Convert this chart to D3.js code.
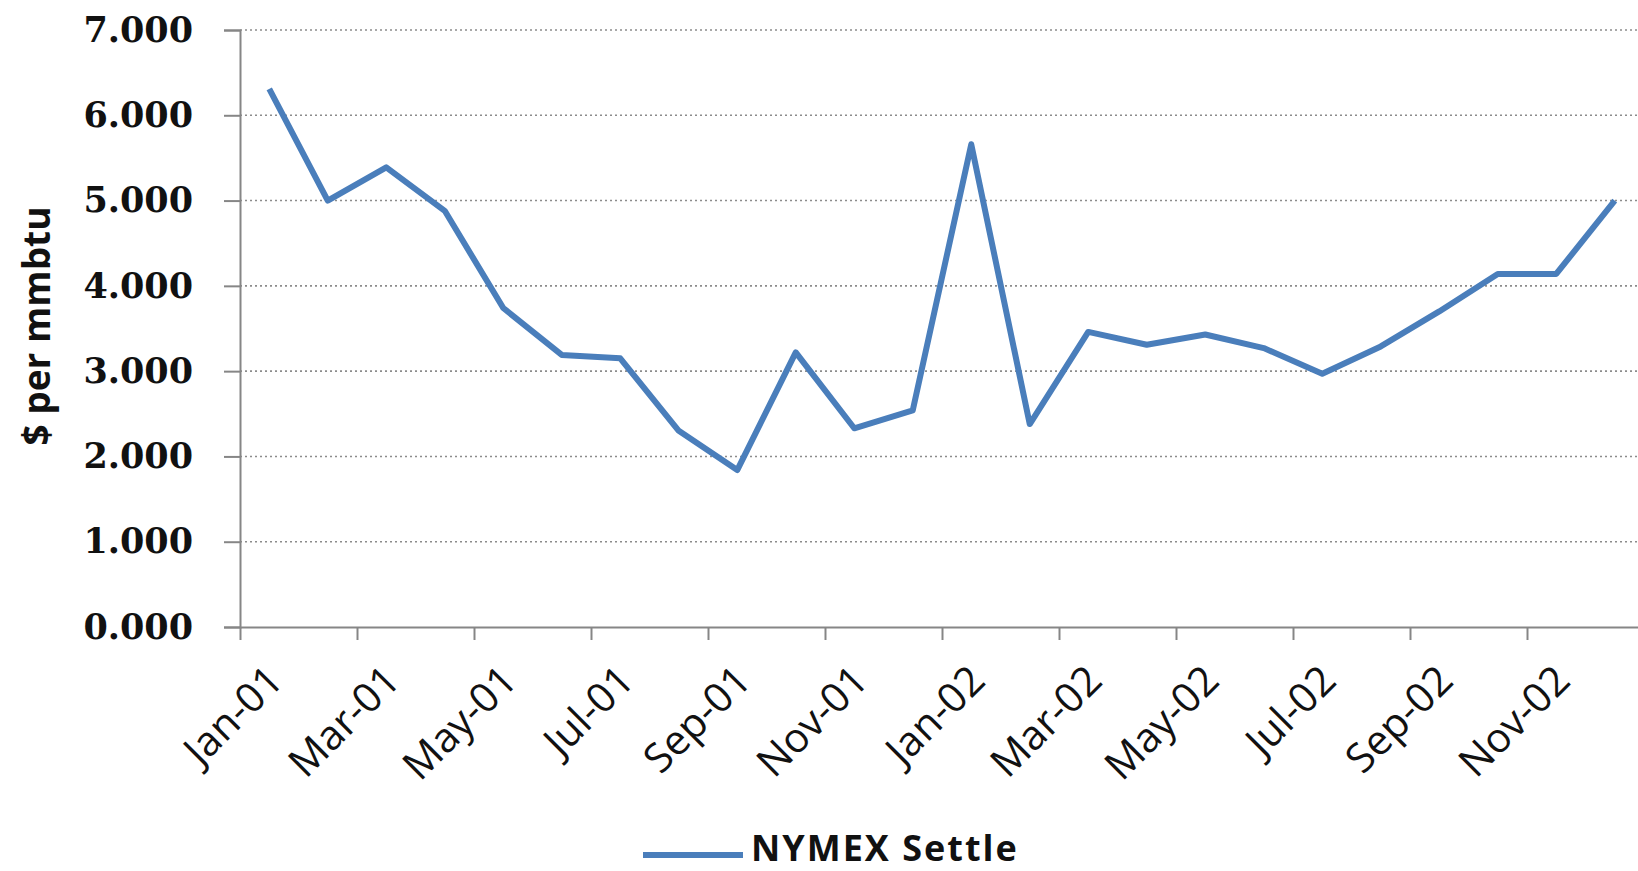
<!DOCTYPE html>
<html>
<head>
<meta charset="utf-8">
<script src="https://cdn.jsdelivr.net/npm/d3@7"></script>
<style>
  body { margin: 0; background: #fff; }
  svg { display: block; }
</style>
</head>
<body>
<div id="chart"></div>
<script>
// monthly categories, Jan-01 .. Dec-02
var months = ["Jan-01","Feb-01","Mar-01","Apr-01","May-01","Jun-01","Jul-01","Aug-01","Sep-01","Oct-01","Nov-01","Dec-01",
              "Jan-02","Feb-02","Mar-02","Apr-02","May-02","Jun-02","Jul-02","Aug-02","Sep-02","Oct-02","Nov-02","Dec-02"];
var settle = [6.31, 5.00, 5.39, 4.88, 3.74, 3.19, 3.15, 2.30, 1.84, 3.22, 2.33, 2.54,
              5.66, 2.38, 3.46, 3.31, 3.43, 3.27, 2.97, 3.29, 3.70, 4.14, 4.14, 5.00];
var yTicks = [0, 1, 2, 3, 4, 5, 6, 7];
var seriesName = "NYMEX Settle";
var yTitle = "$ per mmbtu";

var W = 1638, H = 871;
var margin = {top: 30, left: 240, bottom: 244};
var plotRight = 1644;
var height = H - margin.top - margin.bottom;

var svg = d3.select("#chart").append("svg")
    .attr("width", W)
    .attr("height", H);

var x = d3.scaleBand()
    .domain(months)
    .range([margin.left, plotRight])
    .padding(0);

var xIdx = d3.scaleLinear()
    .domain([0, months.length])
    .range([margin.left, plotRight]);

var y = d3.scaleLinear()
    .domain([0, 7])
    .range([margin.top + height, margin.top]);

// dotted gridlines
svg.append("g")
    .selectAll("line")
    .data(yTicks.filter(function(d){ return d > 0; }))
    .enter().append("line")
    .attr("x1", margin.left)
    .attr("x2", W)
    .attr("y1", function(d){ return y(d); })
    .attr("y2", function(d){ return y(d); })
    .attr("stroke", "#8c8c8c")
    .attr("stroke-width", 1.6)
    .attr("stroke-dasharray", "2,3");

// y axis
var yAxis = svg.append("g")
    .attr("transform", "translate(" + margin.left + ",0)")
    .call(d3.axisLeft(y).tickValues(yTicks).tickSize(16).tickPadding(31).tickFormat(d3.format(".3f")));
yAxis.selectAll("path, line").attr("stroke", "#868686").attr("stroke-width", 2);
yAxis.selectAll("text")
    .attr("fill", "#111")
    .style("font-family", "'DejaVu Serif', serif")
    .style("font-weight", "bold")
    .style("font-size", "35px");

// x axis (ticks between categories, every 2nd)
var evenIdx = d3.range(0, months.length + 1, 2);
var xAxis = svg.append("g")
    .attr("transform", "translate(0," + y(0) + ")")
    .call(d3.axisBottom(xIdx).tickValues(evenIdx).tickSize(13).tickSizeOuter(0).tickFormat(""));
xAxis.selectAll("path, line").attr("stroke", "#868686").attr("stroke-width", 2);

svg.append("g")
    .selectAll("text")
    .data(months.filter(function(d, i){ return i % 2 === 0; }))
    .enter().append("text")
    .attr("transform", function(d){
        return "translate(" + (x(d) + x.bandwidth() / 2 + 16) + "," + (y(0) + 56) + ") rotate(-45)";
    })
    .attr("text-anchor", "end")
    .attr("fill", "#111")
    .style("font-family", "'Open Sans', sans-serif")
    .style("font-size", "41px")
    .text(function(d){ return d; });

// y axis title
svg.append("text")
    .attr("transform", "translate(" + 50 + "," + 326 + ") rotate(-90)")
    .attr("text-anchor", "middle")
    .attr("fill", "#111")
    .style("font-family", "'Open Sans', sans-serif")
    .style("font-weight", "bold")
    .style("font-size", "37px")
    .text(yTitle);

// the series
var valueline = d3.line()
    .x(function(d, i){ return x(months[i]) + x.bandwidth() / 2; })
    .y(function(d){ return y(d); });

svg.append("path")
    .datum(settle)
    .attr("d", valueline)
    .attr("fill", "none")
    .attr("stroke", "#4a7ebb")
    .attr("stroke-width", 6)
    .attr("stroke-linejoin", "round");

// legend
var legend = svg.append("g").attr("transform", "translate(643," + 855 + ")");
legend.append("line")
    .attr("x1", 0).attr("x2", 100)
    .attr("y1", 0).attr("y2", 0)
    .attr("stroke", "#4a7ebb")
    .attr("stroke-width", 6);
legend.append("text")
    .attr("x", 108)
    .attr("y", 6)
    .attr("fill", "#111")
    .style("font-family", "'Open Sans', sans-serif")
    .style("font-weight", "bold")
    .style("font-size", "36px")
    .style("letter-spacing", "2px")
    .text(seriesName);
</script>
</body>
</html>
